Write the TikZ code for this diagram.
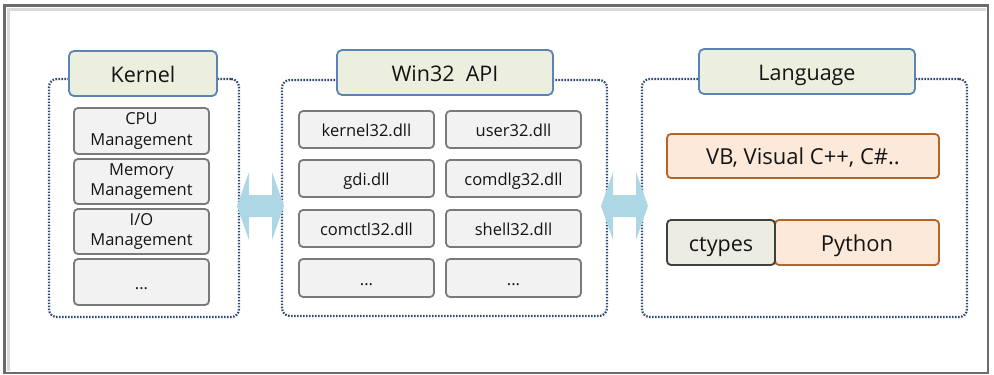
\documentclass[tikz,border=0pt]{standalone}
\usepackage{fontspec}
\setmainfont{Open Sans}
\usetikzlibrary{calc}
\definecolor{framegray}{HTML}{6B6B6B}
\definecolor{shadowgray}{HTML}{DADADA}
\definecolor{dotnavy}{HTML}{2F4A72}
\definecolor{titlefill}{HTML}{ECEFDD}
\definecolor{titleborder}{HTML}{5A83B8}
\definecolor{itemfill}{HTML}{F2F2F2}
\definecolor{itemborder}{HTML}{7A7A7A}
\definecolor{langfill}{HTML}{FDE9D9}
\definecolor{langborder}{HTML}{B3652A}
\definecolor{ctfill}{HTML}{ECECE2}
\definecolor{ctborder}{HTML}{3F3F3F}
\definecolor{arrowblue}{HTML}{ADD7E5}
\definecolor{txt}{HTML}{141414}
\tikzset{
  grp/.style={draw=dotnavy, line width=2.2pt, dash pattern=on 1.6pt off 1.4pt, rounded corners=8pt, inner sep=0pt},
  titlebox/.style={draw=titleborder, fill=titlefill, line width=1.8pt, rounded corners=5pt, inner sep=0pt, text=txt, font=\fontsize{21.5}{24}\selectfont, text height=17pt, text depth=0pt},
  itembox/.style={draw=itemborder, fill=itemfill, line width=1.8pt, rounded corners=4pt, inner sep=0pt, text=txt, align=center, font=\fontsize{16.5}{20.5}\selectfont},
  oneline/.style={text height=14.4pt, text depth=0pt},
  langbox/.style={draw=langborder, fill=langfill, line width=1.8pt, rounded corners=4pt, inner sep=0pt, text=txt, font=\fontsize{22}{24}\selectfont, text height=17pt, text depth=0pt},
  ctbox/.style={draw=ctborder, fill=ctfill, line width=1.8pt, rounded corners=4pt, inner sep=0pt, text=txt, font=\fontsize{21.5}{24}\selectfont, text height=17pt, text depth=0pt},
  dblarrow/.style={fill=arrowblue, draw=none},
}
% box from corner (x1,y1) to (x2,y2), y downward
\newcommand{\bx}[6]{\node[#1, minimum width=(#4-#2)*1pt, minimum height=(#5-#3)*1pt] (#6) at ({(#2+#4)/2},{(#3+#5)/2})}
% double arrow centred on a named coordinate
\newcommand{\dblarr}[1]{\fill[dblarrow] ($(#1)+(-23.5,0)$) -- ++(12,-34) -- ++(0,23) -- ++(23,0) -- ++(0,-23) -- ++(12,34) -- ++(-12,34) -- ++(0,-23) -- ++(-23,0) -- ++(0,23) -- cycle;}
\begin{document}
\begin{tikzpicture}[x=1pt,y=-1pt]
\useasboundingbox (0,0) rectangle (994,375);
% outer frame
\draw[shadowgray, line width=3pt] (8,371) -- (8,9) -- (986,9);
\draw[framegray, line width=2.4pt] (4.5,5.5) rectangle (988,373);

% groups
\bx{grp}{49}{79}{239}{317}{kgrp} {};
\bx{grp}{282}{80}{607}{316}{wgrp} {};
\bx{grp}{642}{79}{967}{317}{lgrp} {};

% arrows between the groups
\coordinate (a1) at ($(kgrp.east)!0.5!(wgrp.west)+(0,8)$);
\coordinate (a2) at ($(wgrp.east)!0.5!(lgrp.west)+(0,8)$);
\dblarr{a1}
\dblarr{a2}

% titles
\bx{titlebox}{69}{51}{217}{96}{kt} {Kernel};
\bx{titlebox}{337}{50}{553}{95}{wt} {Win32\ \ API};
\bx{titlebox}{699}{49}{915}{94}{lt} {Language};

% kernel items
\bx{itembox}{74}{108}{209}{154}{k1} {CPU\\Management};
\bx{itembox}{74}{159}{209}{204}{k2} {Memory\\Management};
\bx{itembox}{74}{209}{209}{254}{k3} {I/O\\Management};
\bx{itembox,oneline}{74}{259}{209}{305}{k4} {...};

% win32 items
\bx{itembox,oneline}{299}{111}{434}{148}{w1} {kernel32.dll};
\bx{itembox,oneline}{446}{111}{581}{148}{w2} {user32.dll};
\bx{itembox,oneline}{299}{160}{434}{197}{w3} {gdi.dll};
\bx{itembox,oneline}{446}{160}{581}{197}{w4} {comdlg32.dll};
\bx{itembox,oneline}{299}{210}{434}{247}{w5} {comctl32.dll};
\bx{itembox,oneline}{446}{210}{581}{247}{w6} {shell32.dll};
\bx{itembox,oneline}{299}{259}{434}{297}{w7} {...};
\bx{itembox,oneline}{446}{259}{581}{297}{w8} {...};

% language items
\bx{langbox}{667}{134}{939}{178}{vb} {VB,\ Visual\ C++,\ C\#..};
\bx{langbox}{775}{220}{939}{265}{py} {Python};
\bx{ctbox}{667}{220}{775}{265}{ct} {ctypes};
\end{tikzpicture}
\end{document}
